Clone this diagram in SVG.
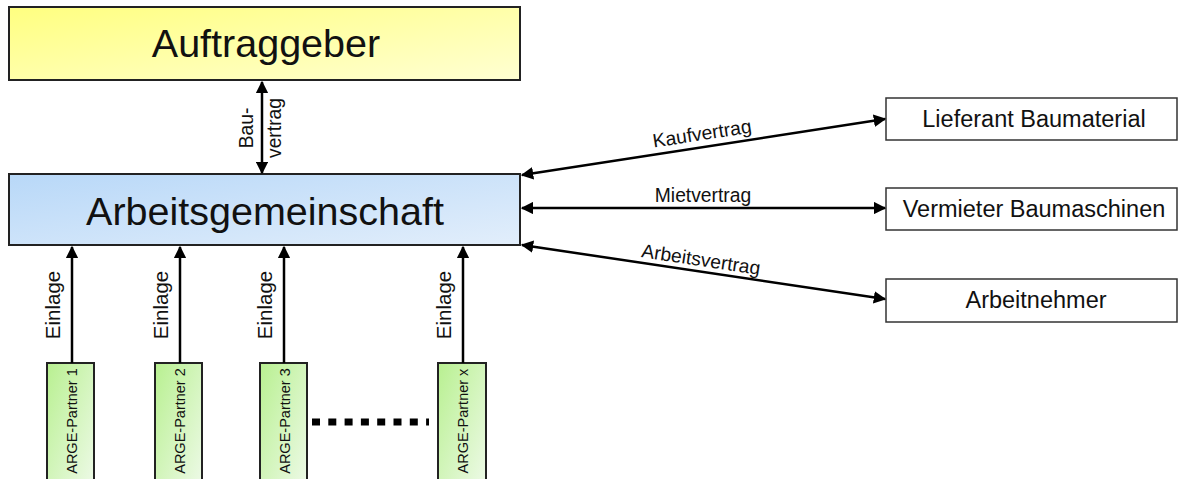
<svg xmlns="http://www.w3.org/2000/svg" width="1179" height="479" viewBox="0 0 1179 479">
<style>
  text { font-family: "Liberation Sans", Arial, sans-serif; fill: #111; }
  .box { stroke: #222; stroke-width: 2; }
  .white { fill: #fff; stroke: #333; stroke-width: 1.5; }
  .big { font-size: 39.5px; text-anchor: middle; }
  .mid { font-size: 23.5px; text-anchor: middle; }
  .lbl { font-size: 19.3px; text-anchor: middle; }
  .ein { font-size: 20.5px; text-anchor: middle; }
  .sm { font-size: 14.5px; text-anchor: middle; }
  .con { stroke: #000; stroke-width: 2.5; fill: none; }
</style>
<defs>
  <linearGradient id="gy" x1="0" y1="0" x2="1" y2="1">
    <stop offset="0" stop-color="#ffff80"/>
    <stop offset="1" stop-color="#ffffd2"/>
  </linearGradient>
  <linearGradient id="gb" x1="0" y1="0" x2="1" y2="1">
    <stop offset="0" stop-color="#b8d8f8"/>
    <stop offset="1" stop-color="#e2eefb"/>
  </linearGradient>
  <linearGradient id="gg" x1="0" y1="0" x2="1" y2="1">
    <stop offset="0" stop-color="#b8f090"/>
    <stop offset="1" stop-color="#eefae8"/>
  </linearGradient>
  <marker id="ah" viewBox="0 0 10 10" refX="9" refY="5" markerWidth="5" markerHeight="5" markerUnits="strokeWidth" orient="auto-start-reverse">
    <path d="M0,0 L10,5 L0,10 z" fill="#000"/>
  </marker>
</defs>

<g id="auftraggeber">
  <rect class="box" x="9" y="7" width="511" height="73" fill="url(#gy)"/>
  <text class="big" x="266" y="57">Auftraggeber</text>
</g>

<g id="arge">
  <rect class="box" x="9" y="174" width="511" height="71" fill="url(#gb)"/>
  <text class="big" x="265" y="225">Arbeitsgemeinschaft</text>
</g>

<g id="lieferant">
  <rect class="white" x="886" y="98" width="291" height="42"/>
  <text class="mid" x="1034" y="127">Lieferant Baumaterial</text>
</g>
<g id="vermieter">
  <rect class="white" x="886" y="188" width="291" height="42"/>
  <text class="mid" x="1034" y="217">Vermieter Baumaschinen</text>
</g>
<g id="arbeitnehmer">
  <rect class="white" x="886" y="279" width="291" height="43"/>
  <text class="mid" x="1036" y="308">Arbeitnehmer</text>
</g>

<g id="partner1">
  <rect class="box" x="47" y="363" width="47" height="125" fill="url(#gg)" stroke-width="1.5"/>
  <text class="sm" transform="translate(76.5,421) rotate(-90)">ARGE-Partner 1</text>
</g>
<g id="partner2">
  <rect class="box" x="155" y="363" width="47" height="125" fill="url(#gg)" stroke-width="1.5"/>
  <text class="sm" transform="translate(184.5,421) rotate(-90)">ARGE-Partner 2</text>
</g>
<g id="partner3">
  <rect class="box" x="260" y="363" width="47" height="125" fill="url(#gg)" stroke-width="1.5"/>
  <text class="sm" transform="translate(289.5,421) rotate(-90)">ARGE-Partner 3</text>
</g>
<g id="partnerx">
  <rect class="box" x="438" y="363" width="48" height="125" fill="url(#gg)" stroke-width="1.5"/>
  <text class="sm" transform="translate(467.5,421) rotate(-90)">ARGE-Partner x</text>
</g>

<g id="connectors">
  <line class="con" x1="262" y1="82" x2="262" y2="173" marker-start="url(#ah)" marker-end="url(#ah)"/>
  <text class="lbl" transform="translate(253,128) rotate(-90)">Bau-</text>
  <text class="lbl" transform="translate(281,128) rotate(-90)">vertrag</text>

  <line class="con" x1="522" y1="175" x2="885" y2="119" marker-start="url(#ah)" marker-end="url(#ah)"/>
  <text class="lbl" transform="translate(703,140) rotate(-8.77)">Kaufvertrag</text>

  <line class="con" x1="522" y1="208" x2="885" y2="208" marker-start="url(#ah)" marker-end="url(#ah)"/>
  <text class="lbl" x="703" y="202">Mietvertrag</text>

  <line class="con" x1="522" y1="245" x2="885" y2="299" marker-start="url(#ah)" marker-end="url(#ah)"/>
  <text class="lbl" transform="translate(700,266) rotate(8.6)">Arbeitsvertrag</text>

  <line class="con" x1="72" y1="363" x2="72" y2="247" marker-end="url(#ah)"/>
  <text class="ein" transform="translate(60,305) rotate(-90)">Einlage</text>
  <line class="con" x1="180" y1="363" x2="180" y2="247" marker-end="url(#ah)"/>
  <text class="ein" transform="translate(168,305) rotate(-90)">Einlage</text>
  <line class="con" x1="284" y1="363" x2="284" y2="247" marker-end="url(#ah)"/>
  <text class="ein" transform="translate(272,305) rotate(-90)">Einlage</text>
  <line class="con" x1="463" y1="363" x2="463" y2="247" marker-end="url(#ah)"/>
  <text class="ein" transform="translate(451,305) rotate(-90)">Einlage</text>

  <line x1="312" y1="422" x2="429" y2="422" stroke="#000" stroke-width="7" stroke-dasharray="8 8.3"/>
</g>
</svg>
